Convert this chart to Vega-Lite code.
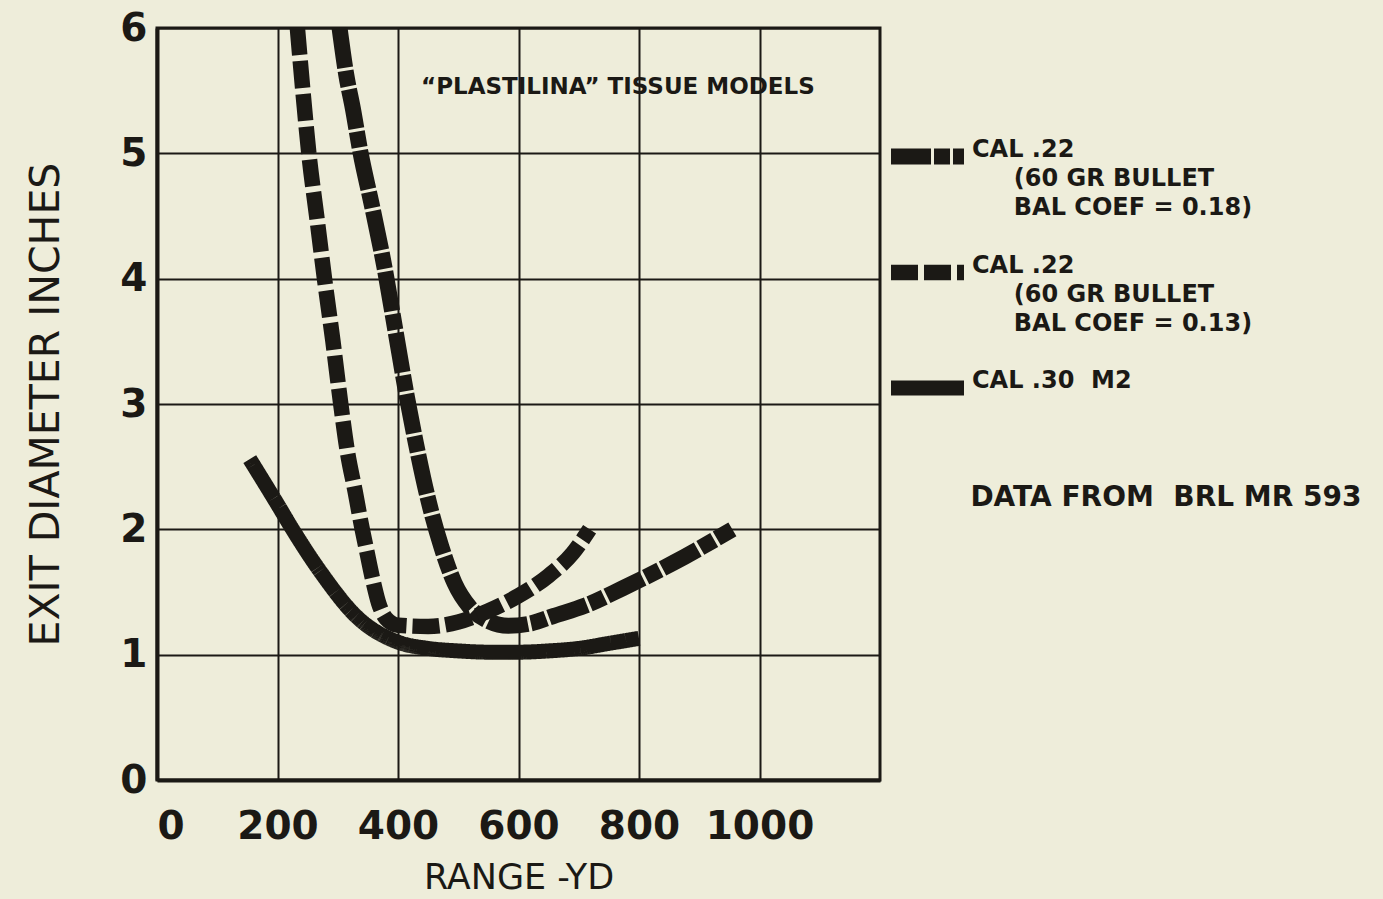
{
  "$schema": "https://vega.github.io/schema/vega-lite/v6.json",
  "width": 723,
  "height": 752,
  "autosize": {"type": "none"},
  "padding": {"left": 157, "top": 28, "right": 503, "bottom": 119},
  "background": "#eeedda",
  "config": {
    "font": "DejaVu Sans",
    "view": {"stroke": "#1b1915", "strokeWidth": 3},
    "axis": {
      "domainColor": "#1b1915",
      "domainWidth": 4,
      "gridColor": "#1b1915",
      "gridWidth": 2,
      "gridOpacity": 1,
      "ticks": false,
      "labelFont": "DejaVu Sans",
      "labelFontSize": 39,
      "labelFontWeight": "bold",
      "labelColor": "#1b1915",
      "titleFont": "DejaVu Sans",
      "titleFontWeight": "normal",
      "titleColor": "#1b1915"
    },
    "style": {"guide-label": {"lineHeight": 29}}
  },
  "layer": [
    {
      "data": {
        "values": [
          {"series": "CAL .22 (BC 0.18)", "range": 303, "diameter": 6.0},
          {"series": "CAL .22 (BC 0.18)", "range": 314, "diameter": 5.63},
          {"series": "CAL .22 (BC 0.18)", "range": 325, "diameter": 5.36},
          {"series": "CAL .22 (BC 0.18)", "range": 338, "diameter": 5.0},
          {"series": "CAL .22 (BC 0.18)", "range": 356, "diameter": 4.6},
          {"series": "CAL .22 (BC 0.18)", "range": 378, "diameter": 4.08},
          {"series": "CAL .22 (BC 0.18)", "range": 397, "diameter": 3.55},
          {"series": "CAL .22 (BC 0.18)", "range": 415, "diameter": 3.05},
          {"series": "CAL .22 (BC 0.18)", "range": 430, "diameter": 2.68},
          {"series": "CAL .22 (BC 0.18)", "range": 449, "diameter": 2.26},
          {"series": "CAL .22 (BC 0.18)", "range": 472, "diameter": 1.86},
          {"series": "CAL .22 (BC 0.18)", "range": 494, "diameter": 1.57},
          {"series": "CAL .22 (BC 0.18)", "range": 519, "diameter": 1.38},
          {"series": "CAL .22 (BC 0.18)", "range": 545, "diameter": 1.28},
          {"series": "CAL .22 (BC 0.18)", "range": 583, "diameter": 1.23},
          {"series": "CAL .22 (BC 0.18)", "range": 621, "diameter": 1.25},
          {"series": "CAL .22 (BC 0.18)", "range": 659, "diameter": 1.31},
          {"series": "CAL .22 (BC 0.18)", "range": 710, "diameter": 1.39},
          {"series": "CAL .22 (BC 0.18)", "range": 773, "diameter": 1.53},
          {"series": "CAL .22 (BC 0.18)", "range": 856, "diameter": 1.73},
          {"series": "CAL .22 (BC 0.18)", "range": 955, "diameter": 2.0},
          {"series": "CAL .22 (BC 0.13)", "range": 233, "diameter": 6.0},
          {"series": "CAL .22 (BC 0.13)", "range": 244, "diameter": 5.4},
          {"series": "CAL .22 (BC 0.13)", "range": 252, "diameter": 5.0},
          {"series": "CAL .22 (BC 0.13)", "range": 265, "diameter": 4.5},
          {"series": "CAL .22 (BC 0.13)", "range": 278, "diameter": 4.0},
          {"series": "CAL .22 (BC 0.13)", "range": 292, "diameter": 3.5},
          {"series": "CAL .22 (BC 0.13)", "range": 305, "diameter": 3.0},
          {"series": "CAL .22 (BC 0.13)", "range": 316, "diameter": 2.62},
          {"series": "CAL .22 (BC 0.13)", "range": 329, "diameter": 2.3},
          {"series": "CAL .22 (BC 0.13)", "range": 339, "diameter": 2.04},
          {"series": "CAL .22 (BC 0.13)", "range": 348, "diameter": 1.83},
          {"series": "CAL .22 (BC 0.13)", "range": 359, "diameter": 1.58},
          {"series": "CAL .22 (BC 0.13)", "range": 368, "diameter": 1.41},
          {"series": "CAL .22 (BC 0.13)", "range": 380, "diameter": 1.29},
          {"series": "CAL .22 (BC 0.13)", "range": 400, "diameter": 1.235},
          {"series": "CAL .22 (BC 0.13)", "range": 450, "diameter": 1.225},
          {"series": "CAL .22 (BC 0.13)", "range": 500, "diameter": 1.26},
          {"series": "CAL .22 (BC 0.13)", "range": 550, "diameter": 1.35},
          {"series": "CAL .22 (BC 0.13)", "range": 600, "diameter": 1.47},
          {"series": "CAL .22 (BC 0.13)", "range": 650, "diameter": 1.63},
          {"series": "CAL .22 (BC 0.13)", "range": 690, "diameter": 1.81},
          {"series": "CAL .22 (BC 0.13)", "range": 718, "diameter": 2.0},
          {"series": "CAL .30 M2", "range": 154, "diameter": 2.56},
          {"series": "CAL .30 M2", "range": 200, "diameter": 2.2},
          {"series": "CAL .30 M2", "range": 225, "diameter": 2.0},
          {"series": "CAL .30 M2", "range": 273, "diameter": 1.65},
          {"series": "CAL .30 M2", "range": 332, "diameter": 1.3},
          {"series": "CAL .30 M2", "range": 400, "diameter": 1.1},
          {"series": "CAL .30 M2", "range": 450, "diameter": 1.05},
          {"series": "CAL .30 M2", "range": 500, "diameter": 1.03},
          {"series": "CAL .30 M2", "range": 550, "diameter": 1.02},
          {"series": "CAL .30 M2", "range": 600, "diameter": 1.02},
          {"series": "CAL .30 M2", "range": 650, "diameter": 1.03},
          {"series": "CAL .30 M2", "range": 700, "diameter": 1.05},
          {"series": "CAL .30 M2", "range": 750, "diameter": 1.09},
          {"series": "CAL .30 M2", "range": 800, "diameter": 1.13}
        ]
      },
      "mark": {
        "type": "line",
        "clip": true,
        "color": "#1b1915",
        "interpolate": "monotone",
        "strokeCap": "butt"
      },
      "encoding": {
        "x": {
          "field": "range",
          "type": "quantitative",
          "scale": {"domain": [0, 1200], "nice": false},
          "axis": {
            "values": [0, 200, 400, 600, 800, 1000],
            "format": "d",
            "title": "RANGE -YD",
            "titleFontSize": 35,
            "labelPadding": 27,
            "titlePadding": 14
          }
        },
        "y": {
          "field": "diameter",
          "type": "quantitative",
          "scale": {"domain": [0, 6], "nice": false},
          "axis": {
            "values": [0, 1, 2, 3, 4, 5, 6],
            "format": "d",
            "title": "EXIT DIAMETER INCHES",
            "titleFontSize": 41,
            "labelPadding": 10,
            "titlePadding": 52
          }
        },
        "strokeWidth": {
          "field": "series",
          "type": "nominal",
          "scale": {
            "domain": ["CAL .22 (BC 0.18)", "CAL .22 (BC 0.13)", "CAL .30 M2"],
            "range": [16, 15, 19]
          },
          "legend": null
        },
        "strokeDash": {
          "field": "series",
          "type": "nominal",
          "scale": {
            "domain": ["CAL .22 (BC 0.18)", "CAL .22 (BC 0.13)", "CAL .30 M2"],
            "range": [[40, 3, 16, 3], [27, 6], [1, 0]]
          },
          "legend": {
            "title": null,
            "orient": "none",
            "legendX": 726,
            "legendY": 84,
            "padding": 0,
            "symbolType": "stroke",
            "symbolSize": 5329,
            "symbolStrokeWidth": 15,
            "symbolStrokeColor": "#1b1915",
            "labelFont": "DejaVu Sans",
            "labelFontSize": 24,
            "labelFontWeight": "bold",
            "labelColor": "#1b1915",
            "labelBaseline": "alphabetic",
            "labelOffset": 0,
            "labelLimit": 0,
            "rowPadding": 8,
            "labelExpr": "datum.label == 'CAL .22 (BC 0.18)' ? ['CAL .22', '\u200b\u00a0\u00a0\u00a0\u00a0\u00a0(60 GR BULLET', '\u200b\u00a0\u00a0\u00a0\u00a0\u00a0BAL COEF = 0.18)'] : datum.label == 'CAL .22 (BC 0.13)' ? ['CAL .22', '\u200b\u00a0\u00a0\u00a0\u00a0\u00a0(60 GR BULLET', '\u200b\u00a0\u00a0\u00a0\u00a0\u00a0BAL COEF = 0.13)'] : 'CAL .30\u00a0 M2'"
          }
        }
      }
    },
    {
      "data": {"values": [{"note": "\u201cPLASTILINA\u201d TISSUE MODELS"}]},
      "mark": {
        "type": "text",
        "font": "DejaVu Sans",
        "fontSize": 23,
        "fontWeight": "bold",
        "color": "#1b1915",
        "align": "center",
        "baseline": "middle"
      },
      "encoding": {
        "x": {"datum": 765},
        "y": {"datum": 5.53},
        "text": {"field": "note"}
      }
    },
    {
      "data": {"values": [{"note": "DATA FROM\u00a0 BRL MR 593"}]},
      "mark": {
        "type": "text",
        "font": "DejaVu Sans",
        "fontSize": 28,
        "fontWeight": "bold",
        "color": "#1b1915",
        "align": "left",
        "baseline": "middle"
      },
      "encoding": {
        "x": {"datum": 1350},
        "y": {"datum": 2.25},
        "text": {"field": "note"}
      }
    }
  ]
}
